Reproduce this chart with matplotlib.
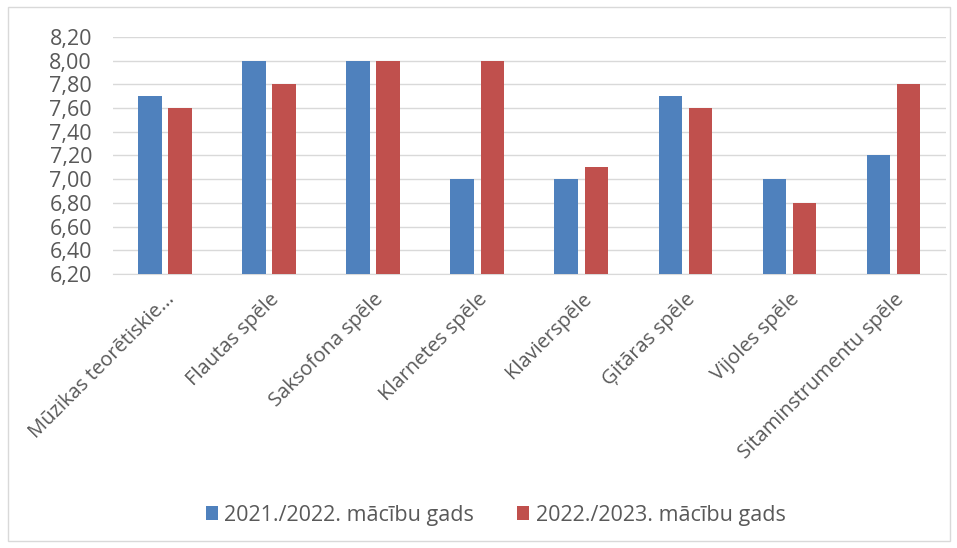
import matplotlib
matplotlib.use('Agg')
import matplotlib.pyplot as plt
import numpy as np
from matplotlib.patches import Rectangle

plt.rcParams['font.family'] = ['Open Sans', 'DejaVu Sans']

categories = ['Mūzikas teorētiskie...', 'Flautas spēle', 'Saksofona spēle', 'Klarnetes spēle',
              'Klavierspēle', 'Ģitāras spēle', 'Vijoles spēle', 'Sitaminstrumentu spēle']
y2122 = [7.7, 8.0, 8.0, 7.0, 7.0, 7.7, 7.0, 7.2]
y2223 = [7.6, 7.8, 8.0, 8.0, 7.1, 7.6, 6.8, 7.8]
labels = ['2021./2022. mācību gads', '2022./2023. mācību gads']

blue = '#4F81BD'
red = '#C0504D'
txt = '#595959'

fig = plt.figure(figsize=(9.57, 5.48), dpi=100)
ax = fig.add_axes([0.118, 0.5, 0.870, 0.4325])

x = np.arange(len(categories))
w = 0.225
ax.bar(x - 0.145, np.array(y2122) - 6.2, w, bottom=6.2, color=blue, label=labels[0], zorder=3)
ax.bar(x + 0.145, np.array(y2223) - 6.2, w, bottom=6.2, color=red, label=labels[1], zorder=3)

ax.set_xlim(-0.5, len(categories) - 0.5)
ax.set_ylim(6.2, 8.2)
yt = np.arange(6.2, 8.21, 0.2)
ax.set_yticks(yt)
ax.set_yticklabels([f'{v:.2f}'.replace('.', ',') for v in yt], fontsize=15.5, color=txt)
ax.yaxis.grid(True, color='#D9D9D9', linewidth=1, zorder=0)
ax.set_axisbelow(True)

ax.set_xticks(x)
ax.set_xticklabels(categories, rotation=45, ha='right', rotation_mode='anchor',
                   fontsize=14.5, color=txt)
ax.tick_params(axis='both', length=0)
ax.tick_params(axis='x', pad=11)
ax.tick_params(axis='y', pad=15)

for s in ['top', 'right', 'left']:
    ax.spines[s].set_visible(False)
ax.spines['bottom'].set_color('#D9D9D9')

leg = fig.legend(loc='center', bbox_to_anchor=(0.518, 0.06), ncol=2, frameon=False,
                 fontsize=15.5, handlelength=0.56, handleheight=0.56, columnspacing=2.0,
                 handletextpad=0.3)
for t in leg.get_texts():
    t.set_color(txt)

fig.patches.append(Rectangle((0.008, 0.012), 0.985, 0.976, transform=fig.transFigure,
                             fill=False, edgecolor='#D9D9D9', linewidth=1))

fig.savefig('out.png', dpi=100, facecolor='white')
